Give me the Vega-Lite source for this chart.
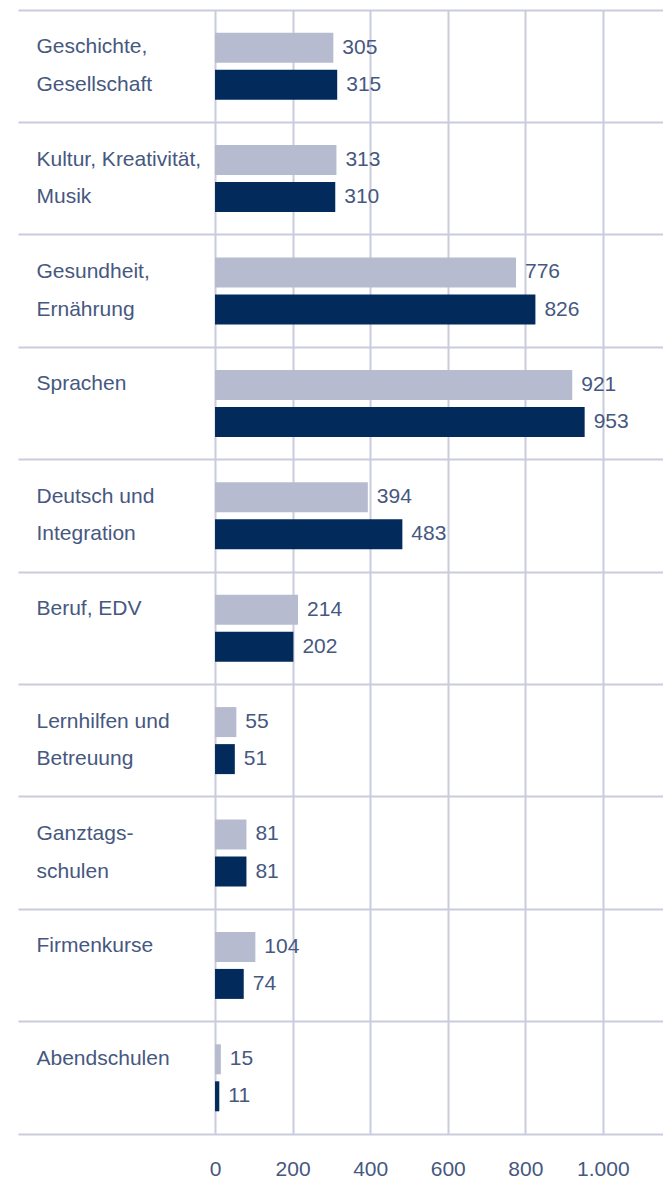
{
  "$schema": "https://vega.github.io/schema/vega-lite/v6.json",
  "autosize": {"type": "none"},
  "padding": {"left": 18, "top": 10, "right": 0, "bottom": 49},
  "width": 645,
  "height": 1124,
  "background": "white",
  "config": {"view": {"stroke": null}, "font": "Liberation Sans"},
  "data": {
    "values": [
      {"cat": "Geschichte,|Gesellschaft", "series": "a", "value": 305},
      {"cat": "Geschichte,|Gesellschaft", "series": "b", "value": 315},
      {"cat": "Kultur, Kreativität,|Musik", "series": "a", "value": 313},
      {"cat": "Kultur, Kreativität,|Musik", "series": "b", "value": 310},
      {"cat": "Gesundheit,|Ernährung", "series": "a", "value": 776},
      {"cat": "Gesundheit,|Ernährung", "series": "b", "value": 826},
      {"cat": "Sprachen|", "series": "a", "value": 921},
      {"cat": "Sprachen|", "series": "b", "value": 953},
      {"cat": "Deutsch und|Integration", "series": "a", "value": 394},
      {"cat": "Deutsch und|Integration", "series": "b", "value": 483},
      {"cat": "Beruf, EDV|", "series": "a", "value": 214},
      {"cat": "Beruf, EDV|", "series": "b", "value": 202},
      {"cat": "Lernhilfen und|Betreuung", "series": "a", "value": 55},
      {"cat": "Lernhilfen und|Betreuung", "series": "b", "value": 51},
      {"cat": "Ganztags-|schulen", "series": "a", "value": 81},
      {"cat": "Ganztags-|schulen", "series": "b", "value": 81},
      {"cat": "Firmenkurse|", "series": "a", "value": 104},
      {"cat": "Firmenkurse|", "series": "b", "value": 74},
      {"cat": "Abendschulen|", "series": "a", "value": 15},
      {"cat": "Abendschulen|", "series": "b", "value": 11}
    ]
  },
  "encoding": {
    "y": {
      "field": "cat",
      "type": "nominal",
      "sort": null,
      "scale": {"paddingInner": 0, "paddingOuter": 0},
      "axis": {
        "title": null,
        "orient": "left",
        "bandPosition": 0,
        "grid": true,
        "gridColor": "#c9ccdc",
        "gridWidth": 2,
        "domain": false,
        "ticks": false,
        "labelAlign": "left",
        "labelBaseline": "middle",
        "labelPadding": -18,
        "labelOffset": -19,
        "labelLineHeight": 37.5,
        "labelFontSize": 21,
        "labelColor": "#46587f",
        "labelLimit": 0,
        "labelExpr": "split(datum.value, '|')"
      }
    },
    "yOffset": {
      "field": "series",
      "type": "nominal",
      "scale": {"paddingInner": 0.19, "paddingOuter": 0.613}
    },
    "x": {
      "field": "value",
      "type": "quantitative",
      "scale": {"domain": [-508, 1155], "nice": false, "zero": false},
      "axis": {
        "title": null,
        "values": [0, 200, 400, 600, 800, 1000],
        "grid": true,
        "gridColor": "#c9ccdc",
        "gridWidth": 2,
        "domain": true,
        "domainColor": "#c9ccdc",
        "domainWidth": 2,
        "ticks": false,
        "labelPadding": 24,
        "labelFontSize": 21,
        "labelColor": "#46587f",
        "labelExpr": "replace(format(datum.value, ','), ',', '.')"
      }
    }
  },
  "layer": [
    {
      "mark": {"type": "bar", "orient": "horizontal"},
      "encoding": {
        "color": {
          "field": "series",
          "type": "nominal",
          "scale": {"domain": ["a", "b"], "range": ["#b7bbcf", "#022a5a"]},
          "legend": null
        }
      }
    },
    {
      "mark": {"type": "text", "align": "left", "baseline": "middle", "dx": 9, "fontSize": 21, "color": "#46587f"},
      "encoding": {
        "text": {"field": "value", "type": "quantitative"}
      }
    }
  ]
}
